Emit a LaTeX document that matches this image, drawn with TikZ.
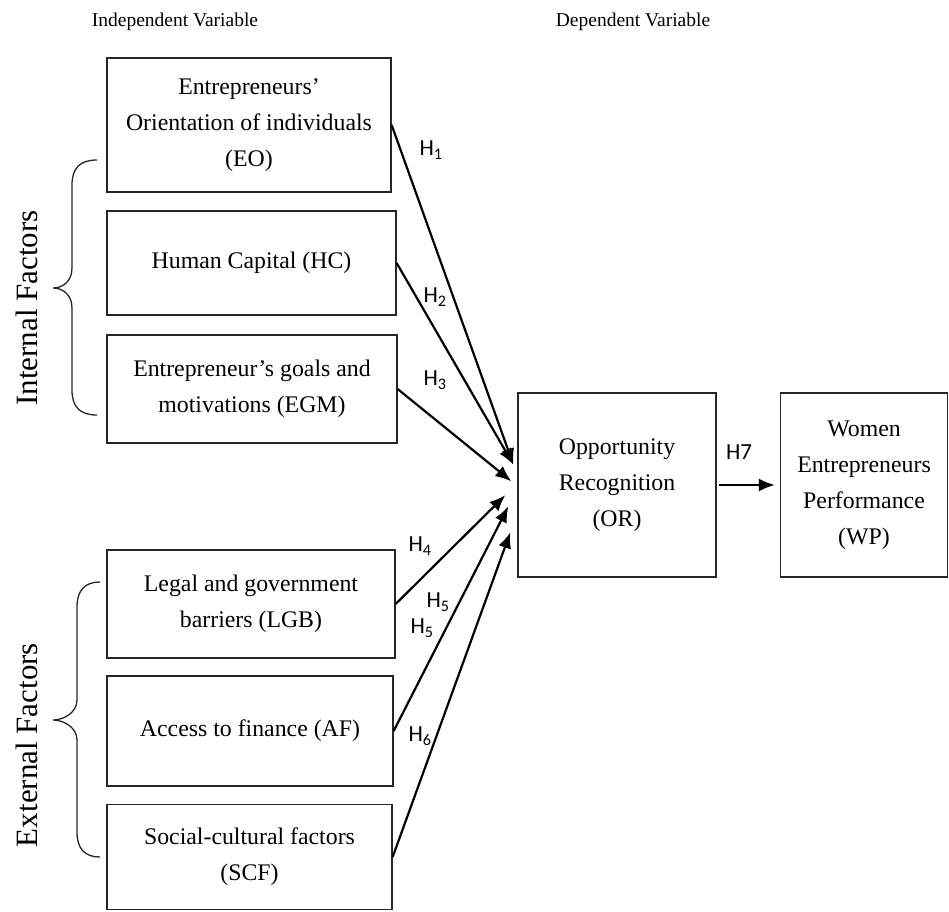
\documentclass[tikz,border=0pt]{standalone}
\usepackage{fontspec}
\setmainfont{Liberation Serif}
\newfontfamily\hfont{Carlito}
\usetikzlibrary{arrows.meta,calc}
\begin{document}
\begin{tikzpicture}[x=1pt,y=-1pt,
  box/.style={draw=black!85,line width=1.3pt,align=center,inner sep=0pt,
    font=\fontsize{23.8}{36}\selectfont},
  title/.style={font=\fontsize{19.5}{23}\selectfont},
  side/.style={font=\fontsize{31}{34}\selectfont,rotate=90},
  hyp/.style={font=\hfont\fontsize{23}{24}\selectfont,inner sep=0pt},
  link/.style={line width=2.2pt,-{Latex[length=16pt,width=13pt]}},
  brace/.style={line width=1.3pt,black!85}]
\useasboundingbox (0,0) rectangle (949,911);

% column headings
\node[title] (indep) at (175,22) {Independent Variable};
\node[title] (dep) at (633,22) {Dependent Variable};

% factor boxes on the left
\node[box,minimum width=284pt,minimum height=134pt] (eo) at (249,125)
  {Entrepreneurs'\\Orientation of individuals\\(EO)};
\node[box,minimum width=289pt,minimum height=104pt] (hc) at (251.5,263)
  {Human Capital (HC)};
\node[box,minimum width=290pt,minimum height=108pt] (egm) at (252,389)
  {Entrepreneur's goals and\\motivations (EGM)};
\node[box,minimum width=288pt,minimum height=108pt] (lgb) at (251,604)
  {Legal and government\\barriers (LGB)};
\node[box,minimum width=286pt,minimum height=110pt] (af) at (250,731)
  {Access to finance (AF)};
\node[box,minimum width=285pt,minimum height=105pt] (scf) at (249.5,857)
  {Social-cultural factors\\(SCF)};

% outcome boxes
\node[box,minimum width=198pt,minimum height=184pt] (or) at (617,485)
  {Opportunity\\Recognition\\(OR)};
\node[box,minimum width=167pt,minimum height=184pt] (wp) at (864,485)
  {Women\\Entrepreneurs\\Performance\\(WP)};

% grouping labels and braces
\node[side] (internal) at (27,308) {Internal Factors};
\node[side] (external) at (27,745) {External Factors};
\draw[brace] (97,160) .. controls (80,160) and (72,168) .. (72,185) -- (72,268)
  .. controls (72,281) and (63,288) .. (53,288)
  .. controls (63,288) and (72,295) .. (72,308) -- (72,390)
  .. controls (72,407) and (80,415) .. (97,415);
\draw[brace] (100,582) .. controls (85,582) and (77,590) .. (77,607) -- (77,700)
  .. controls (77,713) and (63,720) .. (53,720)
  .. controls (63,720) and (77,727) .. (77,740) -- (77,832)
  .. controls (77,849) and (85,857) .. (100,857);

% arrow end points on the left side of OR
\coordinate (t1) at ($(or.north west)!0.39!(or.south west)+(-4,0)$);
\coordinate (t3) at ($(or.north west)!0.48!(or.south west)+(-6,0)$);
\coordinate (t4) at ($(or.north west)!0.555!(or.south west)+(-12,0)$);
\coordinate (t5) at ($(or.north west)!0.615!(or.south west)+(-9,0)$);
\coordinate (t6) at ($(or.north west)!0.755!(or.south west)+(-7,0)$);

\draw[link] (eo.east) -- (t1);
\draw[link] (hc.east) -- (t1);
\draw[link] (egm.east) -- (t3);
\draw[link] (lgb.east) -- (t4);
\draw[link] (af.east) -- (t5);
\draw[link] (scf.east) -- (t6);
\draw[link] ([xshift=2pt]or.east) -- ([xshift=-5pt]wp.west);

% hypothesis labels
\node[hyp] (h1) at (431,150) {H\textsubscript{1}};
\node[hyp] (h2) at (435,297) {H\textsubscript{2}};
\node[hyp] (h3) at (435,380) {H\textsubscript{3}};
\node[hyp] (h4) at (420,546) {H\textsubscript{4}};
\node[hyp] (h5a) at (438,602) {H\textsubscript{5}};
\node[hyp] (h5b) at (422,628) {H\textsubscript{5}};
\node[hyp] (h6) at (420,736) {H\textsubscript{6}};
\node[hyp] (h7) at (739,452) {H7};
\end{tikzpicture}
\end{document}
